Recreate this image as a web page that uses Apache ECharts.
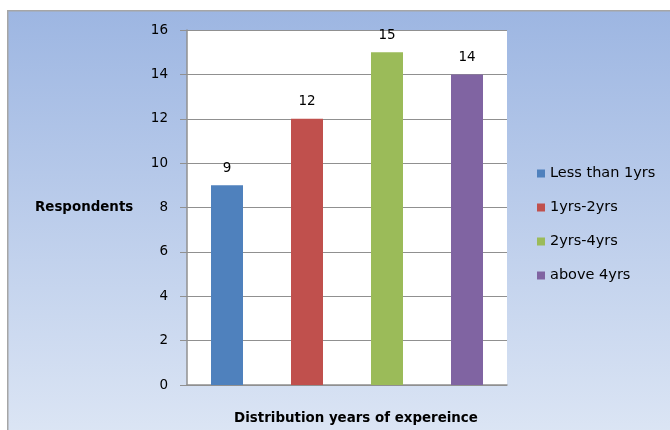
<!DOCTYPE html>
<html><head><meta charset="utf-8">
<script src="https://cdn.jsdelivr.net/npm/echarts@6/dist/echarts.min.js"></script>
<style>html,body{margin:0;padding:0;background:#fff}#c{width:670px;height:430px}</style>
</head><body><div id="c"></div>
<script>
var categories = ['Less than 1yrs', '1yrs-2yrs', '2yrs-4yrs', 'above 4yrs'];
var values = [9, 12, 15, 14];
var colors = ['#4F81BD', '#C0504D', '#9BBB59', '#8064A2'];
var yTicks = [0, 2, 4, 6, 8, 10, 12, 14, 16];
var FONT = 'DejaVu Sans';

var chart = echarts.init(document.getElementById('c'));
var series = categories.map(function (name, i) {
  return {
    name: name,
    type: 'bar',
    stack: 'all',
    barWidth: 32,
    itemStyle: { color: colors[i] },
    label: { show: true, position: 'top', distance: 10, color: '#000', fontSize: 13.5, fontFamily: FONT },
    data: categories.map(function (c, j) { return j === i ? values[i] : '-'; })
  };
});
chart.setOption({
  animation: false,
  graphic: [{
    type: 'rect', left: 7, top: 10, z: -10,
    shape: { width: 700, height: 440 },
    style: {
      fill: new echarts.graphic.LinearGradient(0, 0, 0, 1, [
        { offset: 0, color: '#9DB6E2' }, { offset: 1, color: '#DEE7F5' }
      ]),
      stroke: '#A6A6A6', lineWidth: 1.5
    }
  }, {
    type: 'text', left: 35, top: 201,
    style: { text: 'Respondents', font: 'bold 13.4px "DejaVu Sans"', fill: '#000' }
  }],
  grid: { left: 187, top: 30, width: 320, height: 356, show: true, backgroundColor: '#fff', borderWidth: 0 },
  legend: {
    orient: 'vertical', left: 532, top: 161, itemWidth: 8, itemHeight: 8, itemGap: 19,
    icon: 'rect', data: categories,
    textStyle: { fontSize: 14.5, fontFamily: FONT, color: '#000' }
  },
  xAxis: {
    type: 'category', data: categories,
    name: 'Distribution years of expereince', nameLocation: 'middle', nameGap: 27,
    nameTextStyle: { fontWeight: 'bold', fontSize: 13.4, fontFamily: FONT, color: '#000', padding: [0, 0, 0, 18] },
    axisLine: { lineStyle: { color: '#909090', width: 1.5 } },
    axisTick: { show: false }, axisLabel: { show: false }
  },
  yAxis: {
    type: 'value', min: yTicks[0], max: yTicks[yTicks.length - 1], interval: 2,
    axisLine: { show: true, lineStyle: { color: '#909090', width: 1.5 } },
    axisTick: { show: true, length: 7, lineStyle: { color: '#909090' } },
    axisLabel: { margin: 19, fontSize: 13.5, fontFamily: FONT, color: '#000' },
    splitLine: { lineStyle: { color: '#909090', width: 1.2 } }
  },
  series: series
});
</script></body></html>
